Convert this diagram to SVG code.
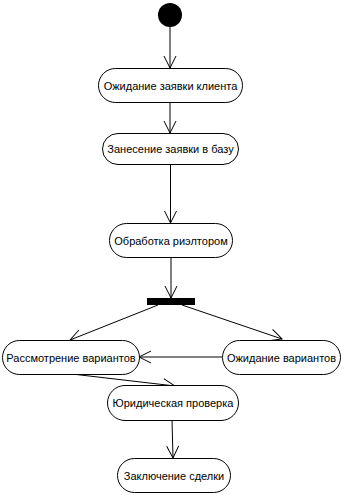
<svg xmlns="http://www.w3.org/2000/svg" width="345" height="495" viewBox="0 0 345 495">
<style>
.n rect{fill:#fff;stroke:#000;stroke-width:1}
.n text{font-family:"Liberation Sans",Arial,sans-serif;font-size:11px;fill:#000;text-anchor:middle;dominant-baseline:central}
.c line{stroke:#000;stroke-width:1;fill:none;marker-end:url(#a)}
</style>
<defs>
<marker id="a" markerUnits="userSpaceOnUse" markerWidth="16" markerHeight="16" viewBox="-14 -8 16 16" refX="0" refY="0" orient="auto" overflow="visible">
<path d="M-12,-6 L0,0 L-12,6" fill="none" stroke="#000" stroke-width="1"/>
</marker>
</defs>
<rect width="345" height="495" fill="#fff"/>
<g class="c" id="connectors">
<line x1="170" y1="27" x2="170" y2="68"/>
<line x1="170" y1="102" x2="170" y2="133"/>
<line x1="170.5" y1="164" x2="170.5" y2="223"/>
<line x1="171" y1="257" x2="171" y2="298"/>
<line x1="158" y1="305" x2="70" y2="340"/>
<line x1="182" y1="305" x2="282" y2="339"/>
<line x1="222" y1="357" x2="139" y2="357"/>
<line x1="72" y1="374" x2="175" y2="386"/>
<line x1="172" y1="420" x2="173" y2="458"/>
</g>
<g id="start"><circle cx="170" cy="15" r="12" fill="#000"/></g>
<g id="fork"><rect x="147" y="298" width="48" height="7" fill="#000"/></g>
<g class="n" id="n1"><rect x="98.5" y="68.5" width="144" height="34" rx="17"/><text x="170.5" y="85.5">Ожидание заявки клиента</text></g>
<g class="n" id="n2"><rect x="102.5" y="133.5" width="136" height="31" rx="15.5"/><text x="170.5" y="149">Занесение заявки в базу</text></g>
<g class="n" id="n3"><rect x="109.5" y="223.5" width="123" height="34" rx="17"/><text x="171" y="240.5">Обработка риэлтором</text></g>
<g class="n" id="n4"><rect x="2.5" y="340.5" width="137" height="34" rx="17"/><text x="71" y="357.5">Рассмотрение вариантов</text></g>
<g class="n" id="n5"><rect x="222.5" y="340.5" width="118" height="34" rx="17"/><text x="281.5" y="357.5">Ожидание вариантов</text></g>
<g class="n" id="n6"><rect x="107.5" y="385.5" width="131" height="35" rx="17.5"/><text x="173" y="403">Юридическая проверка</text></g>
<g class="n" id="n7"><rect x="117.5" y="458.5" width="113" height="34" rx="17"/><text x="174" y="475.5">Заключение сделки</text></g>
</svg>
